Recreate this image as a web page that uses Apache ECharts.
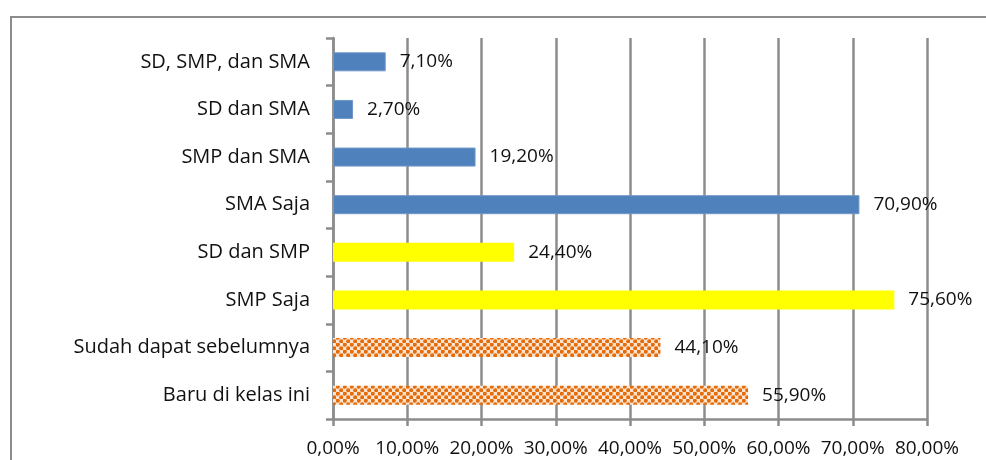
<!DOCTYPE html>
<html>
<head>
<meta charset="utf-8">
<script src="https://cdn.jsdelivr.net/npm/echarts@6/dist/echarts.min.js"></script>
<style>
  html, body { margin: 0; padding: 0; background: #fff; }
  #chart { width: 986px; height: 460px; }
</style>
</head>
<body>
<div id="chart"></div>
<script>
// categories bottom -> top (as ECharts draws a category y axis)
var categories = [
  "Baru di kelas ini",
  "Sudah dapat sebelumnya",
  "SMP Saja",
  "SD dan SMP",
  "SMA Saja",
  "SMP dan SMA",
  "SD dan SMA",
  "SD, SMP, dan SMA"
];
var values = [55.9, 44.1, 75.6, 24.4, 70.9, 19.2, 2.7, 7.1];
var groups = ["orange", "orange", "yellow", "yellow", "blue", "blue", "blue", "blue"];
var xTicks = [0, 10, 20, 30, 40, 50, 60, 70, 80];

var FONT = "Open Sans";
var GRID_GREY = "#8c8c8c";

// dotted orange fill like the office pattern
function dotPattern() {
  var c = document.createElement("canvas");
  c.width = 7;
  c.height = 7;
  var ctx = c.getContext("2d");
  ctx.fillStyle = "#fbe5d2";
  ctx.fillRect(0, 0, 7, 7);
  ctx.fillStyle = "#e46c0a";
  ctx.beginPath();
  ctx.arc(1.75, 1.75, 2.1, 0, Math.PI * 2);
  ctx.fill();
  ctx.beginPath();
  ctx.arc(5.25, 5.25, 2.1, 0, Math.PI * 2);
  ctx.fill();
  return c;
}

var fills = {
  blue: { color: "#4f81bd", borderColor: "#6f97c8", borderWidth: 1 },
  yellow: { color: "#ffff00", borderWidth: 0 },
  orange: { color: { image: dotPattern(), repeat: "repeat" }, borderWidth: 0 }
};

function pct(v) {
  return v.toFixed(2).replace(".", ",") + "%";
}

var chart = echarts.init(document.getElementById("chart"));

var option = {
  animation: false,
  textStyle: { fontFamily: FONT },
  graphic: [
    {
      type: "rect",
      shape: { x: 11, y: 17, width: 1000, height: 500 },
      style: { fill: "none", stroke: "#8c8c8c", lineWidth: 2 },
      z: -1
    }
  ],
  grid: { left: 333, right: 59, top: 38, bottom: 41 },
  xAxis: {
    type: "value",
    min: 0,
    max: 80,
    interval: 10,
    axisLine: { show: true, lineStyle: { color: GRID_GREY, width: 2.5 } },
    axisTick: { show: true, length: 7, lineStyle: { color: GRID_GREY, width: 2.5 } },
    splitLine: { show: true, lineStyle: { color: GRID_GREY, width: 2.5 } },
    axisLabel: {
      margin: 20,
      color: "#111",
      fontSize: 19,
      fontFamily: FONT,
      formatter: function (v) { return pct(v); }
    }
  },
  yAxis: {
    type: "category",
    data: categories,
    axisLine: { show: true, lineStyle: { color: GRID_GREY, width: 2.5 } },
    axisTick: { show: true, length: 7, lineStyle: { color: GRID_GREY, width: 2.5 } },
    axisLabel: {
      margin: 23,
      color: "#111",
      fontSize: 20,
      fontFamily: FONT
    }
  },
  series: [
    {
      type: "bar",
      barWidth: 19,
      data: values.map(function (v, i) {
        return { value: v, itemStyle: fills[groups[i]] };
      }),
      label: {
        show: true,
        position: "right",
        distance: 14,
        color: "#111",
        fontSize: 19,
        fontFamily: FONT,
        formatter: function (p) { return pct(p.value); }
      },
      z: 3
    }
  ]
};

chart.setOption(option);
</script>
</body>
</html>
